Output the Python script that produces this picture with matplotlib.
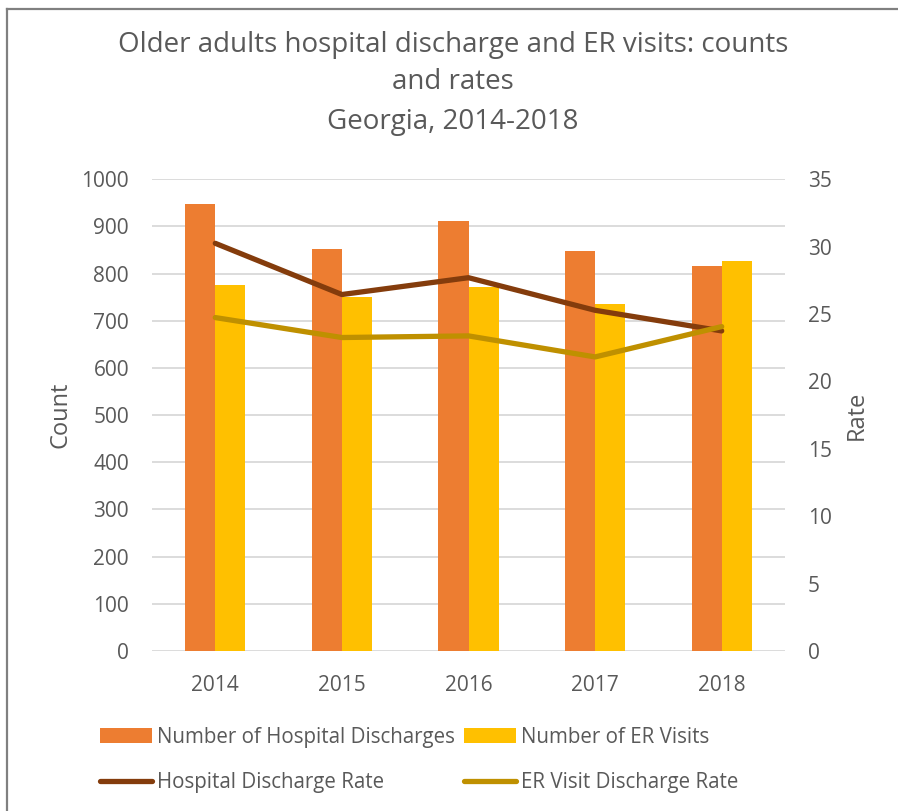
import numpy as np
import matplotlib
matplotlib.use("Agg")
import matplotlib.pyplot as plt
from matplotlib.lines import Line2D

plt.rcParams['font.family'] = ['Open Sans', 'DejaVu Sans']

years = ['2014', '2015', '2016', '2017', '2018']
hosp_count = [947, 852, 912, 849, 816]
er_count = [775, 751, 772, 735, 826]
hosp_rate = [30.25, 26.45, 27.7, 25.28, 23.75]
er_rate = [24.74, 23.26, 23.38, 21.82, 24.07]

txt = '#595959'
W, H = 898, 811
fig = plt.figure(figsize=(W/100, H/100), dpi=100)

# chart border (only top and left edges show)
fig.add_artist(Line2D([7/W, 1], [1-9/H, 1-9/H], color='#808080', lw=1.6))
fig.add_artist(Line2D([7/W, 7/W], [0, 1-9/H], color='#808080', lw=1.6))

ax = fig.add_axes([152/W, 1-651/H, (785-152)/W, (651-179.3)/H])
x = np.arange(len(years))
bw = 0.237
b1 = ax.bar(x - bw/2, hosp_count, bw, color='#ED7D31', zorder=2,
            label='Number of Hospital Discharges')
b2 = ax.bar(x + bw/2, er_count, bw, color='#FFC000', zorder=2,
            label='Number of ER Visits')
ax.set_xlim(-0.5, 4.5)
ax.set_ylim(0, 1000)
ax.set_yticks(range(0, 1001, 100))
ax.set_xticks(x)
ax.set_xticklabels(years)
ax.grid(axis='y', color='#d9d9d9', lw=1.3, zorder=0)
ax.set_axisbelow(True)
for s in ax.spines.values():
    s.set_visible(False)
ax.tick_params(length=0, labelsize=15, colors=txt, pad=16.5)
ax.tick_params(axis='x', pad=17)

ax2 = ax.twinx()
l1, = ax2.plot(x, hosp_rate, color='#843C0C', lw=3.8, solid_capstyle='round',
               solid_joinstyle='round', label='Hospital Discharge Rate', zorder=3)
l2, = ax2.plot(x, er_rate, color='#BF9000', lw=3.8, solid_capstyle='round',
               solid_joinstyle='round', label='ER Visit Discharge Rate', zorder=3)
ax2.set_ylim(0, 35)
ax2.set_yticks(range(0, 36, 5))
for s in ax2.spines.values():
    s.set_visible(False)
ax2.tick_params(length=0, labelsize=15, colors=txt, pad=16.5)

fig.text(60/W, 1-415/H, 'Count', rotation=90, ha='center', va='center',
         fontsize=17, color=txt)
fig.text(857/W, 1-415/H, 'Rate', rotation=90, ha='center', va='center',
         fontsize=17, color=txt)

fig.text(453/W, 1-45/H, 'Older adults hospital discharge and ER visits: counts',
         ha='center', va='center', fontsize=20, color=txt)
fig.text(453/W, 1-82/H, 'and rates', ha='center', va='center',
         fontsize=20, color=txt)
fig.text(453/W, 1-122/H, 'Georgia, 2014-2018', ha='center', va='center',
         fontsize=20, color=txt)

leg = fig.legend([b1, l1, b2, l2],
                 [b1.get_label(), l1.get_label(), b2.get_label(), l2.get_label()],
                 ncol=2, loc='center left', bbox_to_anchor=(92/W, 1-760/H),
                 frameon=False, fontsize=14.8, labelcolor=txt,
                 handlelength=2.53, handleheight=0.7, handletextpad=0.24,
                 columnspacing=0.44, labelspacing=1.2, borderaxespad=0)

fig.savefig('out.png', dpi=100)
